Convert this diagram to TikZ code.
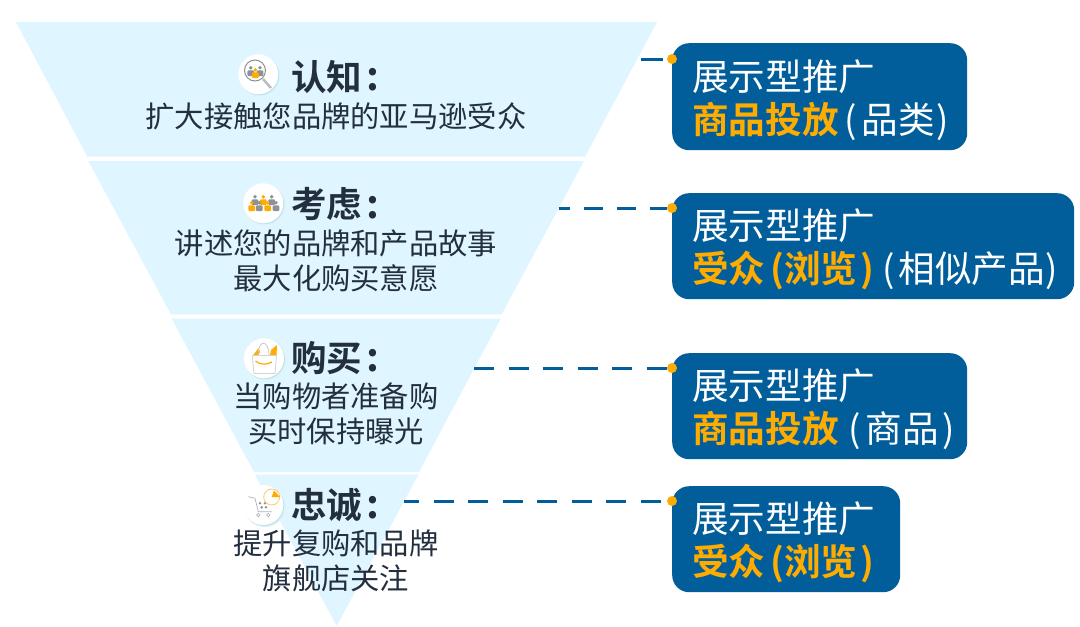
\documentclass[tikz,border=0pt]{standalone}
\usepackage{graphicx}
\usepackage{fontspec}
\setmainfont[BoldFont={Noto Sans CJK SC Bold}]{Noto Sans CJK SC}
\definecolor{funnelblue}{HTML}{DFF5FF}
\definecolor{boxblue}{HTML}{025E9A}
\definecolor{adorange}{HTML}{FFAC00}
\definecolor{inkdark}{HTML}{232F3E}
\definecolor{iconshade}{HTML}{B9E2EC}
\definecolor{icongray}{HTML}{8C9196}
\tikzset{
  adbox/.style={fill=boxblue,rounded corners=17pt,anchor=north west,text=white,inner xsep=20pt,inner ysep=0pt,
    align=left,font=\fontsize{36.6}{41}\selectfont,execute at begin node=\vspace*{6pt}},
  stagetitle/.style={text=inkdark,inner sep=0pt,font=\fontsize{35.5}{40}\selectfont\bfseries},
  stagetext/.style={text=inkdark,inner sep=0pt,align=center,font=\fontsize{29.3}{35}\selectfont},
  adlink/.style={draw=boxblue,line width=3pt,dash pattern=on 20pt off 14.5pt},
  addot/.style={circle,fill=adorange,inner sep=0pt,minimum size=10pt},
  iconball/.style={circle,fill=white,inner sep=0pt,minimum size=40pt},
  iconhalo/.style={fill=iconshade!45},
  iconrim/.style={fill=iconshade}
}
\newcommand{\hl}[1]{\textbf{\textcolor{adorange}{#1}}}
\newcommand{\adhead}{\raisebox{-4pt}[0.9em][0.1em]{展示型推广}}
\newcommand{\bigcolon}{\kern4pt\raisebox{-0.5pt}{\scalebox{1.12}{:}}}
\newcommand{\person}[3]{%
  \fill[#3] (#1,#2-3.2) circle (1.9);
  \fill[#3,rounded corners=1pt] (#1-3.4,#2-0.6) rectangle (#1+3.4,#2+5);
}
\begin{document}
\begin{tikzpicture}[x=1pt,y=-1pt]
  \useasboundingbox (0,0) rectangle (1080,627);
  \fill[white] (0,0) rectangle (1080,627);

  % funnel
  \fill[funnelblue] (16,22) -- (657,22) -- (585,156.7) -- (87.3,156.7) -- cycle;
  \fill[funnelblue] (88.3,161) -- (584,161) -- (501.7,314.3) -- (171,314.3) -- cycle;
  \fill[funnelblue] (171.7,318.7) -- (500.7,318.7) -- (419,472) -- (254,472) -- cycle;
  \fill[funnelblue] (255,474.7) -- (418.3,474.7) -- (336.7,626) -- cycle;

  % boxes
  \node[adbox,minimum height=107pt,text width=255pt] (box1) at (672,43) {\adhead\\\hl{商品投放}\kern6pt(\kern5pt品类\kern1pt)};
  \node[adbox,minimum height=106pt,text width=362pt] (box2) at (672,193) {\adhead\\\hl{受众\kern5pt(浏览\kern3pt)}\kern8pt(\kern4pt相似产品\kern0pt)};
  \node[adbox,minimum height=106pt,text width=255pt] (box3) at (672,353) {\adhead\\\hl{商品投放}\kern10pt(\kern5pt商品\kern3pt)};
  \node[adbox,minimum height=106pt,text width=188pt] (box4) at (672,486) {\adhead\\\hl{受众\kern5pt(浏览\kern3pt)}};

  \node[addot] (dot1) at (672,59) {};
  \node[addot] (dot2) at (672,208) {};
  \node[addot] (dot3) at (672,368) {};
  \node[addot] (dot4) at (672,501) {};

  \coordinate (start1) at (641,59);
  \coordinate (start2) at (558.7,208);
  \coordinate (start3) at (474,368);
  \coordinate (start4) at (403.5,501);
  \draw[adlink,dash pattern=on 22pt off 20pt] (start1) -- (dot1);
  \draw[adlink,dash pattern=on 19pt off 14pt,dash phase=8pt] (start2) -- (dot2);
  \draw[adlink] (start3) -- (dot3);
  \draw[adlink,dash phase=4.5pt] (start4) -- (dot4);

  % stage texts
  \node[stagetitle,anchor=west] (title1) at (291,77) {认知\bigcolon};
  \node[stagetext] (text1) at (336,116) {扩大接触您品牌的亚马逊受众};
  \node[stagetitle,anchor=west] (title2) at (291,204) {考虑\bigcolon};
  \node[stagetext] (text2) at (336,261) {讲述您的品牌和产品故事\\最大化购买意愿};
  \node[stagetitle,anchor=west] (title3) at (291,358) {购买\bigcolon};
  \node[stagetext] (text3) at (336,414) {当购物者准备购\\买时保持曝光};
  \node[stagetitle,anchor=west] (title4) at (291,505) {忠诚\bigcolon};
  \node[stagetext] (text4) at (336,561) {提升复购和品牌\\旗舰店关注};

  % icon: magnifier
  \fill[iconhalo] (260,76) circle (20.5);
  \fill[iconrim] (259.2,75.2) circle (20);
  \node[iconball] (icon1) at (258.3,74.3) {};
  \draw[icongray,line width=1pt] (255,70.5) circle (10.5);
  \draw[icongray!60,line width=2.5pt] (263,79) -- (271,88);
  \person{250.8}{71}{icongray}
  \person{260}{71}{icongray}
  \person{255.4}{73}{adorange}

  % icon: people
  \fill[iconhalo] (265,205) circle (20.5);
  \fill[iconrim] (264.2,204.2) circle (20);
  \node[iconball] (icon2) at (263.3,203.3) {};
  \person{255}{200}{icongray}
  \person{271.7}{200}{icongray}
  \person{263.3}{200}{adorange}
  \person{259.3}{206}{icongray}
  \person{276}{206}{icongray}
  \person{251.7}{206}{adorange}
  \person{267.7}{206}{adorange}

  % icon: bag
  \fill[iconhalo] (265.7,360) circle (20.5);
  \fill[iconrim] (264.9,359.2) circle (20);
  \node[iconball] (icon3) at (264,358.3) {};
  \fill[adorange] (253,355.5) -- (258.5,348) -- (260,352) -- (258,356) -- cycle;
  \fill[adorange] (270,355.5) -- (271,350) -- (277,345) -- (276.5,356) -- cycle;
  \draw[icongray!50,line width=0.8pt] (258,356) .. controls (258,339) and (269,339) .. (269,356);
  \draw[icongray!40,fill=white,line width=0.8pt] (252.3,355.5) -- (276.5,355.5) -- (275,373.5) -- (254,373.5) -- cycle;
  \draw[adorange,line width=1.2pt] (255.5,361) .. controls (260,365) and (267,365) .. (272,362);

  % icon: cart
  \fill[iconhalo] (265,506.7) circle (20.5);
  \fill[iconrim] (264.2,505.9) circle (20);
  \node[iconball] (icon4) at (263.3,505) {};
  \draw[icongray!70,line width=0.7pt] (248.3,496.7) -- (255,498.3) -- (258.3,511.7) -- (271.7,511.7);
  \draw[icongray!70,line width=0.7pt] (258.3,515) circle (1.7) (268.3,515) circle (1.7);
  \fill[icongray] (260,503.3) circle (1.4) (265,503.3) circle (1.4) (261.7,507.3) circle (1.4) (266,507.3) circle (1.4);
  \draw[adorange!70,line width=0.7pt] (271.7,497) circle (8);
  \fill[adorange] (271.7,497) -- (274,490.5) -- (280,497) -- cycle;
\end{tikzpicture}
\end{document}
